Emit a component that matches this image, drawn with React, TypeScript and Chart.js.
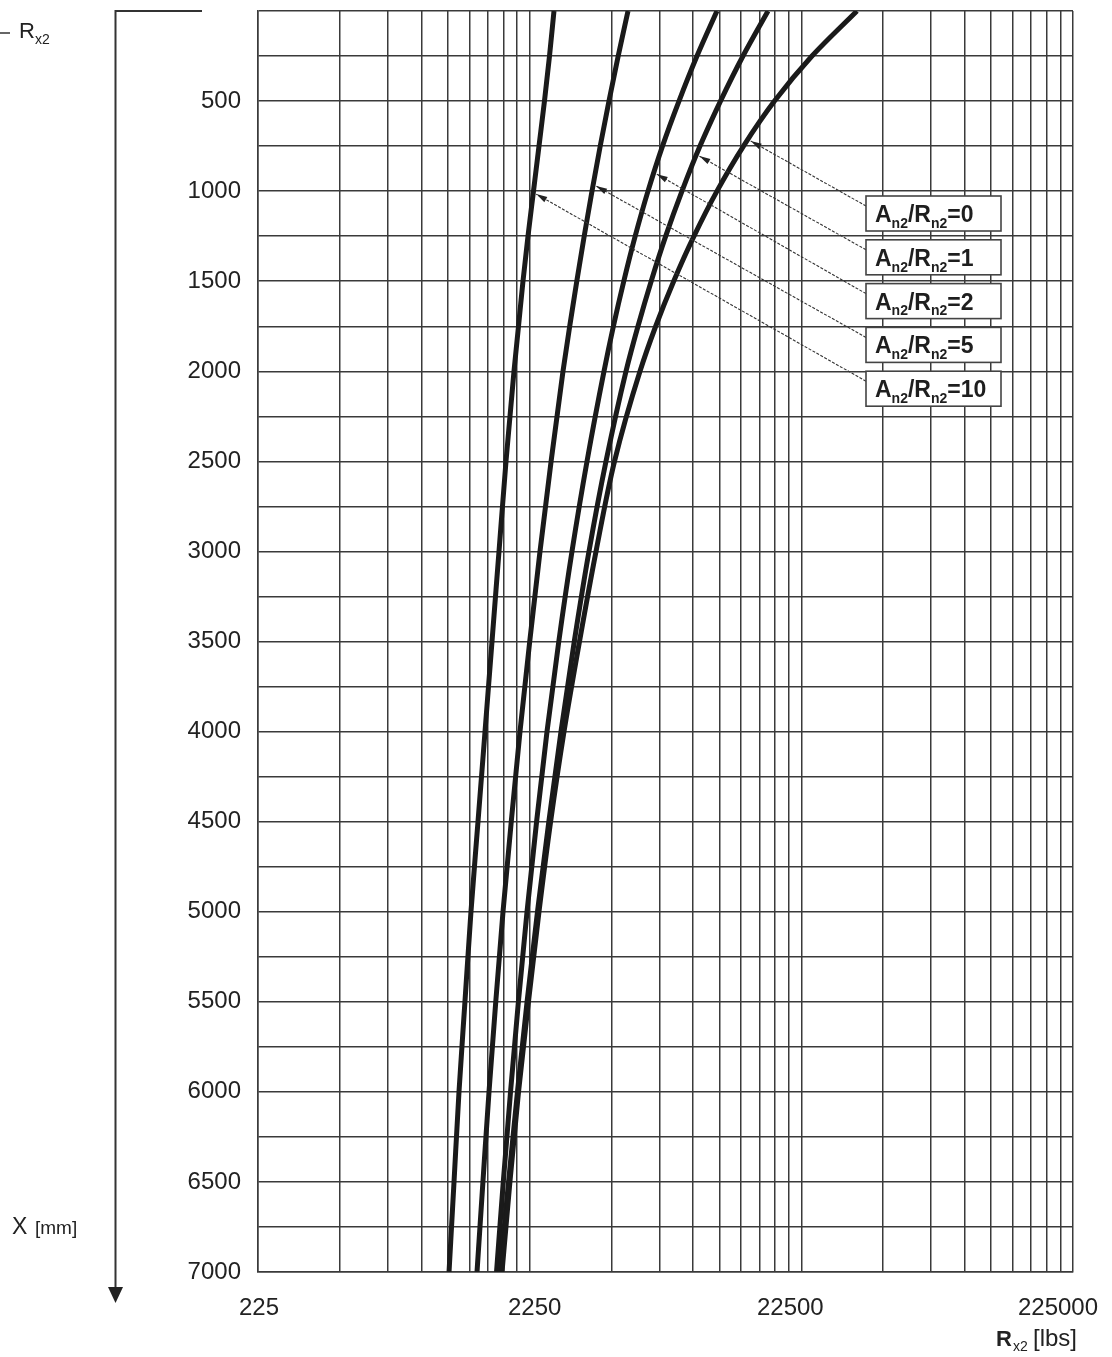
import React, { useEffect, useRef } from 'react';
import { Chart, registerables } from 'chart.js';

Chart.register(...registerables);

// ---- data ----
const depthMm = [0, 250, 500, 750, 1000, 1250, 1500, 1750, 2000, 2500, 3000, 3500, 4000, 4500, 5000, 5500, 6000, 6500, 7000];

const ratio0 = [36050, 24627, 17921, 13781, 11006, 9058, 7627, 6548, 5732, 4618, 3948, 3432, 3010, 2687, 2435, 2227, 2047, 1903, 1780];
const ratio1 = [16961, 13722, 11340, 9531, 8182, 7127, 6302, 5635, 5090, 4297, 3720, 3284, 2934, 2647, 2404, 2201, 2029, 1881, 1750];
const ratio2 = [11006, 9292, 7977, 6936, 6134, 5503, 4996, 4575, 4225, 3658, 3221, 2880, 2606, 2386, 2200, 2045, 1913, 1799, 1699];
const ratio5 = [5178, 4765, 4407, 4091, 3816, 3572, 3355, 3159, 2984, 2698, 2456, 2251, 2073, 1925, 1795, 1688, 1594, 1514, 1440];
const ratio10 = [2765, 2662, 2551, 2435, 2324, 2218, 2126, 2047, 1970, 1841, 1735, 1635, 1541, 1452, 1368, 1300, 1236, 1185, 1136];

const seriesValues = [ratio0, ratio1, ratio2, ratio5, ratio10];
const ratioLabels = ['0', '1', '2', '5', '10'];
const arrowDepth = [716, 800, 900, 966, 1011];

const xDecades = [225, 2250, 22500];
const xMultipliers = [1, 2, 3, 4, 5, 6, 7, 8, 9];
const xTickLabels = [225, 2250, 22500, 225000];
const yMin = 0;
const yMax = 7000;
const yGridStep = 250;
const yLabelStep = 500;

const FONT = '"Liberation Sans", Arial, Helvetica, sans-serif';
const TEXT = '#222';
const GRID = '#3a3a3a';
const CURVE = '#1a1a1a';

const xGridValues: number[] = [];
xDecades.forEach((d) => xMultipliers.forEach((m) => xGridValues.push(d * m)));
xGridValues.push(xTickLabels[xTickLabels.length - 1]);

type Part = { t: string; sub?: boolean };

function drawRich(ctx: CanvasRenderingContext2D, parts: Part[], x: number, y: number, size: number, bold: boolean, subSize: number) {
  let cx = x;
  for (const p of parts) {
    const s = p.sub ? subSize : size;
    ctx.font = `${bold ? 'bold ' : ''}${s}px ${FONT}`;
    ctx.fillText(p.t, cx, p.sub ? y + size * 0.25 : y);
    cx += ctx.measureText(p.t).width;
  }
}

function curveXAt(values: number[], depth: number): number {
  for (let i = 0; i < depthMm.length - 1; i++) {
    const a = depthMm[i];
    const b = depthMm[i + 1];
    if (depth >= a && depth <= b) {
      const t = (depth - a) / (b - a);
      const la = Math.log10(values[i]);
      const lb = Math.log10(values[i + 1]);
      return Math.pow(10, la + (lb - la) * t);
    }
  }
  return values[values.length - 1];
}

const decorPlugin = {
  id: 'decor',
  afterDraw(chart: any) {
    const ctx: CanvasRenderingContext2D = chart.ctx;
    const { top, bottom } = chart.chartArea;
    const xs = chart.scales.x;
    const ys = chart.scales.y;
    ctx.save();

    // x tick labels
    const shifts = [1, 5, -11, -15];
    ctx.fillStyle = TEXT;
    ctx.font = `24px ${FONT}`;
    ctx.textAlign = 'center';
    ctx.textBaseline = 'middle';
    xTickLabels.forEach((v, i) => {
      ctx.fillText(String(v), xs.getPixelForValue(v) + shifts[i], bottom + 36);
    });

    // left depth arrow
    ctx.strokeStyle = '#333';
    ctx.lineWidth = 2;
    ctx.beginPath();
    ctx.moveTo(202, top);
    ctx.lineTo(115.5, top);
    ctx.lineTo(115.5, bottom + 16);
    ctx.stroke();
    ctx.fillStyle = '#222';
    ctx.beginPath();
    ctx.moveTo(108, bottom + 15);
    ctx.lineTo(123, bottom + 15);
    ctx.lineTo(115.5, bottom + 31);
    ctx.closePath();
    ctx.fill();

    // top-left R_x2
    ctx.textAlign = 'left';
    ctx.textBaseline = 'alphabetic';
    ctx.fillStyle = TEXT;
    ctx.lineWidth = 1.5;
    ctx.beginPath();
    ctx.moveTo(0, 33);
    ctx.lineTo(10, 33);
    ctx.stroke();
    drawRich(ctx, [{ t: 'R' }, { t: 'x2', sub: true }], 19, 38, 22, false, 14);

    // X [mm]
    ctx.font = `23px ${FONT}`;
    ctx.fillText('X', 12, 1234);
    ctx.font = `19px ${FONT}`;
    ctx.fillText('[mm]', 35, 1234);

    // bottom-right axis title
    ctx.font = `bold 22px ${FONT}`;
    ctx.fillText('R', 996, 1346);
    ctx.font = `14px ${FONT}`;
    ctx.fillText('x2', 1013, 1351);
    ctx.font = `24px ${FONT}`;
    ctx.fillText('[lbs]', 1033, 1346);

    // leader arrows and label boxes
    const boxLeft = 866;
    const boxW = 135;
    const boxH = 35;
    ratioLabels.forEach((lab, i) => {
      const bt = 196 + i * 43.8;
      const tx = xs.getPixelForValue(curveXAt(seriesValues[i], arrowDepth[i])) + 3;
      const ty = ys.getPixelForValue(arrowDepth[i]) + 1;
      const sx = boxLeft;
      const sy = bt + 10;
      ctx.strokeStyle = '#333';
      ctx.lineWidth = 1.1;
      ctx.setLineDash([3, 1.5]);
      ctx.beginPath();
      ctx.moveTo(sx, sy);
      ctx.lineTo(tx, ty);
      ctx.stroke();
      ctx.setLineDash([]);
      const ang = Math.atan2(ty - sy, tx - sx);
      const hl = 11;
      const hw = 3;
      ctx.fillStyle = '#222';
      ctx.beginPath();
      ctx.moveTo(tx, ty);
      ctx.lineTo(tx - hl * Math.cos(ang) + hw * Math.sin(ang), ty - hl * Math.sin(ang) - hw * Math.cos(ang));
      ctx.lineTo(tx - hl * Math.cos(ang) - hw * Math.sin(ang), ty - hl * Math.sin(ang) + hw * Math.cos(ang));
      ctx.closePath();
      ctx.fill();

      ctx.fillStyle = '#fff';
      ctx.fillRect(boxLeft, bt, boxW, boxH);
      ctx.strokeStyle = '#444';
      ctx.lineWidth = 1.6;
      ctx.strokeRect(boxLeft, bt, boxW, boxH);
      ctx.fillStyle = '#1e1e1e';
      drawRich(
        ctx,
        [{ t: 'A' }, { t: 'n2', sub: true }, { t: '/R' }, { t: 'n2', sub: true }, { t: '=' + lab }],
        boxLeft + 9,
        bt + 26,
        23,
        true,
        14
      );
    });

    ctx.restore();
  },
};

export default function App() {
  const ref = useRef<HTMLCanvasElement | null>(null);

  useEffect(() => {
    if (!ref.current) return;
    const datasets = seriesValues.map((vals, i) => ({
      label: 'An2/Rn2=' + ratioLabels[i],
      data: vals.map((v, j) => ({ x: v, y: depthMm[j] })),
      showLine: true,
      borderColor: CURVE,
      backgroundColor: CURVE,
      borderWidth: 5,
      pointRadius: 0,
      cubicInterpolationMode: 'monotone' as const,
      fill: false,
    }));

    const chart = new Chart(ref.current, {
      type: 'scatter',
      data: { datasets },
      options: {
        indexAxis: 'y',
        animation: false,
        responsive: false,
        devicePixelRatio: 1,
        layout: { padding: { top: 11, right: 39, bottom: 0, left: 0 } },
        plugins: {
          legend: { display: false },
          tooltip: { enabled: false },
          title: { display: false },
        },
        scales: {
          x: {
            type: 'logarithmic',
            min: xTickLabels[0],
            max: xTickLabels[xTickLabels.length - 1],
            afterBuildTicks: (scale: any) => {
              scale.ticks = xGridValues.map((v) => ({ value: v }));
            },
            afterFit: (scale: any) => {
              scale.height = 85;
              scale.paddingLeft = 0;
              scale.paddingRight = 0;
            },
            ticks: { display: false },
            grid: { color: GRID, lineWidth: 1.5, drawTicks: false },
            border: { display: true, color: GRID, width: 1.5 },
          },
          y: {
            type: 'linear',
            reverse: true,
            min: yMin,
            max: yMax,
            afterFit: (scale: any) => {
              scale.width = 258;
              scale.paddingTop = 0;
              scale.paddingBottom = 0;
            },
            ticks: {
              stepSize: yGridStep,
              autoSkip: false,
              padding: 17,
              color: TEXT,
              font: { family: FONT, size: 24 },
              callback: (v: any) => (Number(v) % yLabelStep === 0 && Number(v) !== 0 ? String(v) : ''),
            },
            grid: { color: GRID, lineWidth: 1.5, drawTicks: false },
            border: { display: true, color: GRID, width: 1.5 },
          },
        },
      } as any,
      plugins: [decorPlugin],
    });
    return () => chart.destroy();
  }, []);

  return (
    <div style={{ position: 'absolute', left: 0, top: 0, width: 1112, height: 1357, background: '#fff' }}>
      <canvas ref={ref} width={1112} height={1357} />
    </div>
  );
}
